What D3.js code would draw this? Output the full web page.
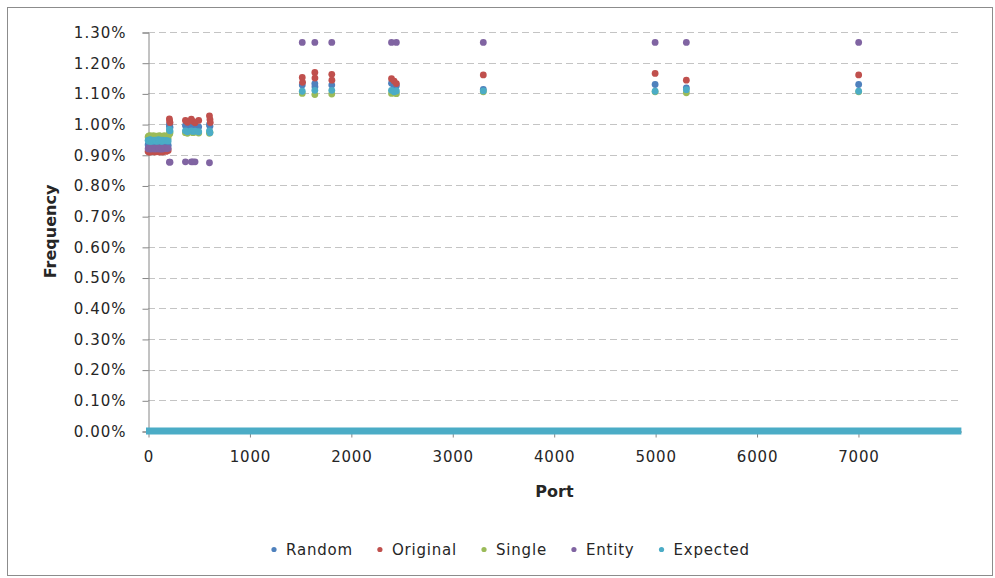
<!DOCTYPE html>
<html>
<head>
<meta charset="utf-8">
<script src="https://cdn.jsdelivr.net/npm/d3@7"></script>
<style>
  body { margin: 0; background: #fff; }
  text { font-family: "DejaVu Sans", Verdana, sans-serif; fill: #262626; }
</style>
</head>
<body>
<figure id="scatter" style="margin:0"></figure>
<script>
// series names and colours (legend order)
const seriesNames = ["Random", "Original", "Single", "Entity", "Expected"];
const seriesColors = ["#4f81bd", "#c0504d", "#9bbb59", "#8064a2", "#4bacc6"];

// dense block of low ports
const blockPorts = [1, 7, 9, 13, 17, 19, 21, 22, 23, 25, 37, 42, 53, 67, 69, 79, 80, 88, 102, 110, 111, 113, 119, 123, 135, 137, 139, 143, 161, 179, 199];
const randomBlock = [0.933, 0.931, 0.935, 0.932, 0.930, 0.934, 0.936, 0.932, 0.931, 0.933, 0.935, 0.930, 0.932, 0.934, 0.931, 0.933, 0.936, 0.932, 0.930, 0.933, 0.935, 0.931, 0.932, 0.934, 0.930, 0.933, 0.931, 0.935, 0.932, 0.933, 0.931];
const originalBlock = [0.911, 0.914, 0.909, 0.913, 0.910, 0.915, 0.912, 0.909, 0.914, 0.911, 0.913, 0.910, 0.912, 0.915, 0.909, 0.913, 0.911, 0.914, 0.910, 0.912, 0.909, 0.915, 0.911, 0.913, 0.910, 0.914, 0.912, 0.909, 0.913, 0.911, 0.914];
const singleBlock = [0.958, 0.961, 0.956, 0.960, 0.962, 0.957, 0.959, 0.955, 0.961, 0.958, 0.956, 0.960, 0.962, 0.957, 0.959, 0.961, 0.955, 0.958, 0.960, 0.956, 0.962, 0.959, 0.957, 0.961, 0.958, 0.960, 0.956, 0.959, 0.962, 0.957, 0.955];
const entityBlock = [0.920, 0.922, 0.919, 0.923, 0.921, 0.920, 0.922, 0.919, 0.921, 0.920, 0.922, 0.919, 0.921, 0.919, 0.920, 0.922, 0.919, 0.921, 0.922, 0.919, 0.920, 0.921, 0.919, 0.922, 0.920, 0.919, 0.921, 0.919, 0.922, 0.920, 0.921];
const expectedBlock = [0.947, 0.945, 0.948, 0.946, 0.944, 0.947, 0.949, 0.945, 0.946, 0.948, 0.944, 0.947, 0.946, 0.945, 0.948, 0.946, 0.947, 0.944, 0.949, 0.946, 0.945, 0.947, 0.948, 0.946, 0.944, 0.947, 0.945, 0.948, 0.946, 0.947, 0.945];

// individual ports (null = no point)
const sparsePorts = [211, 213, 217, 369, 389, 427, 443, 464, 500, 606, 611, 614, 1521, 1524, 1645, 1646, 1812, 1813, 2401, 2427, 2449, 3306, 5000, 5308, 7007];
const randomSparse = [0.998, 0.993, 0.990, 0.995, 0.992, 0.996, 0.993, 0.995, 0.991, 0.998, 0.993, null, 1.127, null, 1.132, 1.122, 1.127, null, 1.133, 1.120, 1.125, 1.113, 1.129, 1.118, 1.129];
const originalSparse = [1.017, 1.010, 1.005, 1.012, 1.006, 1.016, 1.009, 1.004, 1.012, 1.027, 1.015, 1.005, 1.152, 1.136, 1.168, 1.150, 1.162, 1.143, 1.148, 1.140, 1.132, 1.160, 1.165, 1.143, 1.160];
const singleSparse = [0.970, 0.968, 0.972, 0.972, 0.970, 0.975, 0.972, 0.974, 0.971, 0.970, 0.973, null, 1.100, null, 1.096, null, 1.098, null, 1.100, 1.102, 1.099, 1.105, 1.105, 1.102, 1.105];
const entitySparse = [0.876, null, 0.876, 0.877, null, 0.877, 0.877, 0.877, null, 0.874, null, null, 1.266, null, 1.266, null, 1.266, null, 1.266, null, 1.266, 1.266, 1.266, 1.266, 1.266];
const expectedSparse = [0.983, 0.980, 0.978, 0.978, 0.975, 0.978, 0.976, 0.977, 0.975, 0.978, 0.972, null, 1.107, null, 1.110, null, 1.110, null, 1.110, 1.105, 1.108, 1.108, 1.107, 1.112, 1.107];

// Expected is 0% on every other port: a solid run along the axis
const expectedZeroSpan = [0, 8000];

const xTicks = [0, 1000, 2000, 3000, 4000, 5000, 6000, 7000];
const yTicks = [0, 0.1, 0.2, 0.3, 0.4, 0.5, 0.6, 0.7, 0.8, 0.9, 1.0, 1.1, 1.2, 1.3];

const W = 995, H = 578;
const plotLeft = 148, plotTop = 32, plotRight = 961, plotBottom = 431;

const svg = d3.select("figure#scatter")
  .append("svg")
  .attr("width", W)
  .attr("height", H);

svg.append("rect")
  .attr("x", 7.5).attr("y", 7.5)
  .attr("width", 985).attr("height", 568)
  .attr("fill", "#fff")
  .attr("stroke", "#8c8c8c");

const x = d3.scaleLinear().domain([0, 8016]).range([plotLeft, plotRight]);
const y = d3.scaleLinear().domain([0, 1.3]).range([plotBottom, plotTop]);

// gridlines
svg.append("g")
  .selectAll("line")
  .data(yTicks.filter(d => d > 0))
  .join("line")
  .attr("x1", plotLeft).attr("x2", plotRight)
  .attr("y1", d => Math.round(y(d)) + 0.5)
  .attr("y2", d => Math.round(y(d)) + 0.5)
  .attr("stroke", "#c4c4c4")
  .attr("stroke-dasharray", "7,4");

// y axis
const yAxis = svg.append("g")
  .attr("transform", `translate(${plotLeft + 0.5},0.5)`)
  .call(d3.axisLeft(y).tickValues(yTicks).tickSize(6).tickPadding(16)
    .tickFormat(d => d3.format(".2f")(d) + "%"));
yAxis.select(".domain").attr("stroke", "#868686");
yAxis.selectAll(".tick line").attr("stroke", "#868686");
yAxis.selectAll("text")
  .style("font-size", "15px")
  .style("letter-spacing", "1px")
  .attr("fill", "#262626");

// x axis
const xAxis = svg.append("g")
  .attr("transform", `translate(0.5,${plotBottom + 0.5})`)
  .call(d3.axisBottom(x).tickValues(xTicks).tickSize(6).tickPadding(14).tickSizeOuter(0)
    .tickFormat(d3.format("d")));
xAxis.select(".domain").attr("stroke", "#868686");
xAxis.selectAll(".tick line").attr("stroke", "#868686");
xAxis.selectAll("text")
  .style("font-size", "15px")
  .style("letter-spacing", "0.8px")
  .attr("fill", "#262626");

// zero run of Expected
svg.append("line")
  .attr("x1", x(expectedZeroSpan[0]) - 2)
  .attr("x2", x(expectedZeroSpan[1]) + 2)
  .attr("y1", y(0)).attr("y2", y(0))
  .attr("stroke", seriesColors[4])
  .attr("stroke-width", 7);

const blocks = [randomBlock, originalBlock, singleBlock, entityBlock, expectedBlock];
const sparse = [randomSparse, originalSparse, singleSparse, entitySparse, expectedSparse];

seriesNames.forEach((name, i) => {
  const pts = blockPorts.map((p, j) => ({ port: p, v: blocks[i][j] }))
    .concat(sparsePorts.map((p, j) => ({ port: p, v: sparse[i][j] })))
    .filter(d => d.v != null);
  svg.append("g")
    .selectAll("circle")
    .data(pts)
    .join("circle")
    .attr("cx", d => x(d.port))
    .attr("cy", d => y(d.v))
    .attr("r", 3.4)
    .attr("fill", seriesColors[i]);
});

// axis titles
svg.append("text")
  .attr("text-anchor", "middle")
  .attr("transform", `translate(56,${(plotTop + plotBottom) / 2}) rotate(-90)`)
  .style("font-size", "16px")
  .style("font-weight", "bold")
  .text("Frequency");

svg.append("text")
  .attr("text-anchor", "middle")
  .attr("x", (plotLeft + plotRight) / 2)
  .attr("y", 497)
  .style("font-size", "16px")
  .style("font-weight", "bold")
  .text("Port");

// legend
const legend = svg.append("g");
let lx = 274;
seriesNames.forEach((name, i) => {
  legend.append("circle")
    .attr("cx", lx).attr("cy", 549.5)
    .attr("r", 2.6)
    .attr("fill", seriesColors[i]);
  const t = legend.append("text")
    .attr("x", lx + 12).attr("y", 555)
    .style("font-size", "15px")
    .style("letter-spacing", "0.8px")
    .text(name);
  lx += 12 + t.node().getComputedTextLength() + 27;
});
</script>
</body>
</html>
